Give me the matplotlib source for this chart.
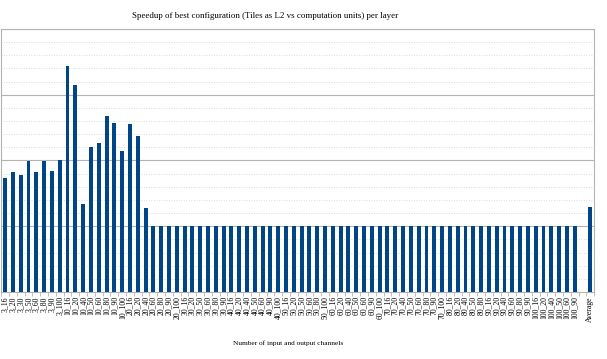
import matplotlib
matplotlib.use("Agg")
import matplotlib.pyplot as plt
from matplotlib.ticker import MultipleLocator, FixedLocator

# layer labels (input_output channels)
labels = ["3_16", "3_20", "3_30", "3_50", "3_60", "3_80", "3_90", "3_100",
          "10_16", "10_20", "10_40", "10_50", "10_60", "10_80", "10_90", "10_100",
          "20_16", "20_20", "20_40", "20_60", "20_80", "20_90", "20_100",
          "30_16", "30_20", "30_50", "30_60", "30_80", "30_90",
          "40_16", "40_20", "40_40", "40_50", "40_60", "40_90", "40_100",
          "50_16", "50_20", "50_50", "50_60", "50_80", "50_100",
          "60_16", "60_20", "60_40", "60_50", "60_60", "60_90", "60_100",
          "70_16", "70_20", "70_40", "70_50", "70_60", "70_80", "70_90", "70_100",
          "80_16", "80_20", "80_40", "80_50", "80_80",
          "90_16", "90_20", "90_40", "90_60", "90_80", "90_90",
          "100_16", "100_20", "100_40", "100_50", "100_60", "100_90",
          "", "Average"]

# speedup per layer
speedup = [1.73, 1.83, 1.78, 1.985, 1.83, 1.985, 1.84, 2.015,
           3.43, 3.15, 1.34, 2.20, 2.27, 2.67, 2.575, 2.14,
           2.55, 2.37, 1.27, 1.0, 1.0, 1.0, 1.0,
           1.0, 1.0, 1.0, 1.0, 1.0, 1.0,
           1.0, 1.0, 1.0, 1.0, 1.0, 1.0, 1.0,
           1.0, 1.0, 1.0, 1.0, 1.0, 1.0,
           1.0, 1.0, 1.0, 1.0, 1.0, 1.0, 1.0,
           1.0, 1.0, 1.0, 1.0, 1.0, 1.0, 1.0, 1.0,
           1.0, 1.0, 1.0, 1.0, 1.0,
           1.0, 1.0, 1.0, 1.0, 1.0, 1.0,
           1.0, 1.0, 1.0, 1.0, 1.0, 1.0,
           0.0, 1.29]

plt.rcParams['font.family'] = ['Liberation Serif', 'DejaVu Serif']

fig = plt.figure(figsize=(6.07, 3.59), dpi=100)
ax = fig.add_axes([0.002, (359 - 292) / 359, (594 - 1) / 607, (292 - 29) / 359])

x = list(range(len(labels)))
ax.bar(x, speedup, width=0.5, color="#004586", zorder=3)

ax.set_xlim(-0.5, len(labels) - 0.5)
ax.set_ylim(0, 4)
ax.yaxis.set_major_locator(MultipleLocator(1))
ax.yaxis.set_minor_locator(MultipleLocator(0.2))
ax.grid(which="major", axis="y", color="#b3b3b3", linewidth=0.8, zorder=0)
ax.grid(which="minor", axis="y", color="#d0d0d0", linewidth=0.6, linestyle=(0, (1, 2)), zorder=0)
ax.tick_params(axis="y", which="both", left=False, labelleft=False)

ax.set_xticks(x)
ax.set_xticklabels(labels, rotation=90, fontsize=5.6)
ax.xaxis.set_minor_locator(FixedLocator([i + 0.5 for i in range(-1, len(labels))]))
ax.tick_params(axis="x", which="major", length=0, pad=3)
ax.tick_params(axis="x", which="minor", length=3, color="#b3b3b3", width=0.6)

for s in ax.spines.values():
    s.set_color("#b3b3b3")
    s.set_linewidth(0.8)

fig.text(265 / 607, 1 - 16 / 359, "Speedup of best configuration (Tiles as L2 vs computation units) per layer",
         ha="center", va="center", fontsize=6.4)
fig.text(288 / 607, 1 - 343 / 359, "Number of input and output channels",
         ha="center", va="center", fontsize=5.3)

fig.savefig("out.png", dpi=100)
